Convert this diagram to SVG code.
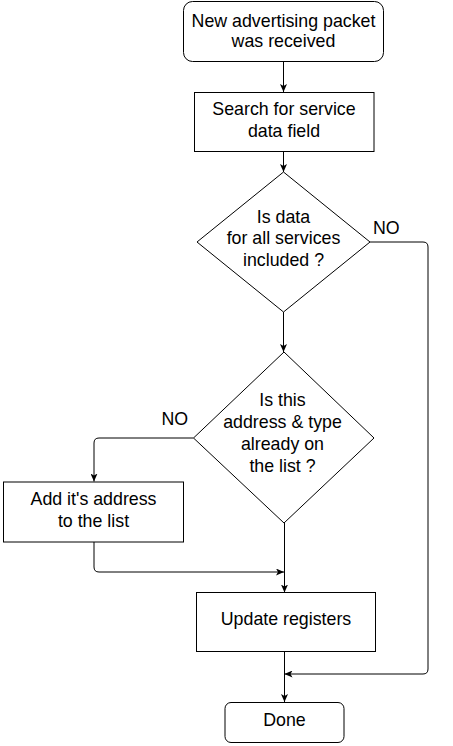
<svg xmlns="http://www.w3.org/2000/svg" width="453" height="746" viewBox="0 0 453 746">
<style>
.n{fill:#fff;stroke:#000;stroke-width:1}
.t{font-family:"Liberation Sans",Arial,sans-serif;font-size:17.8px;fill:#000;text-anchor:middle}
.l{font-family:"Liberation Sans",Arial,sans-serif;font-size:17.8px;fill:#000}
.c{fill:none;stroke:#000;stroke-width:1;marker-end:url(#a)}
</style>
<defs>
<marker id="a" viewBox="0 0 8 7" refX="8" refY="3.5" markerWidth="8" markerHeight="7" markerUnits="userSpaceOnUse" orient="auto">
<path d="M0,0 L8,3.5 L0,7 L2,3.5 Z" fill="#000"/>
</marker>
</defs>
<rect width="453" height="746" fill="#fff"/>
<g id="connectors">
<path class="c" d="M283.5,62 V92"/>
<path class="c" d="M283.5,152 V172"/>
<path class="c" d="M283.5,312 V352"/>
<path class="c" d="M370,242 H423 Q428,242 428,247 V669 Q428,674 423,674 H284.5"/>
<path class="c" d="M193.5,438 H99 Q94,438 94,443 V481.5"/>
<path class="c" d="M94,542 V567 Q94,572 99,572 H284"/>
<path class="c" d="M284.5,523 V592.5"/>
<path class="c" d="M284.5,652 V702"/>
</g>
<g id="start">
<rect class="n" x="183.5" y="1.5" width="200" height="60" rx="9"/>
<text class="t" x="283.5" y="26.5">New advertising packet</text>
<text class="t" x="283.5" y="47">was received</text>
</g>
<g id="search">
<rect class="n" x="194.5" y="92.5" width="179.5" height="59"/>
<text class="t" x="284" y="114.5">Search for service</text>
<text class="t" x="284" y="136.5">data field</text>
</g>
<g id="decision1">
<polygon class="n" points="283.5,172 370,242 283.5,312 197,242"/>
<text class="t" x="283.5" y="222.5">Is data</text>
<text class="t" x="283.5" y="244">for all services</text>
<text class="t" x="283.5" y="265.5">included ?</text>
<text class="l" x="373" y="234">NO</text>
</g>
<g id="decision2">
<polygon class="n" points="284,352 374,438 284,523 193.5,438"/>
<text class="t" x="282.5" y="405.5">Is this</text>
<text class="t" x="282.5" y="428">address &amp; type</text>
<text class="t" x="282.5" y="450">already on</text>
<text class="t" x="282.5" y="472">the list ?</text>
<text class="l" x="161.5" y="425">NO</text>
</g>
<g id="add">
<rect class="n" x="3.5" y="482" width="180" height="60"/>
<text class="t" x="93.5" y="505">Add it's address</text>
<text class="t" x="93.5" y="526.5">to the list</text>
</g>
<g id="update">
<rect class="n" x="196.5" y="592.5" width="179" height="59"/>
<text class="t" x="286" y="625">Update registers</text>
</g>
<g id="done">
<rect class="n" x="225" y="702.5" width="119" height="40" rx="6"/>
<text class="t" x="284.5" y="726">Done</text>
</g>
</svg>
